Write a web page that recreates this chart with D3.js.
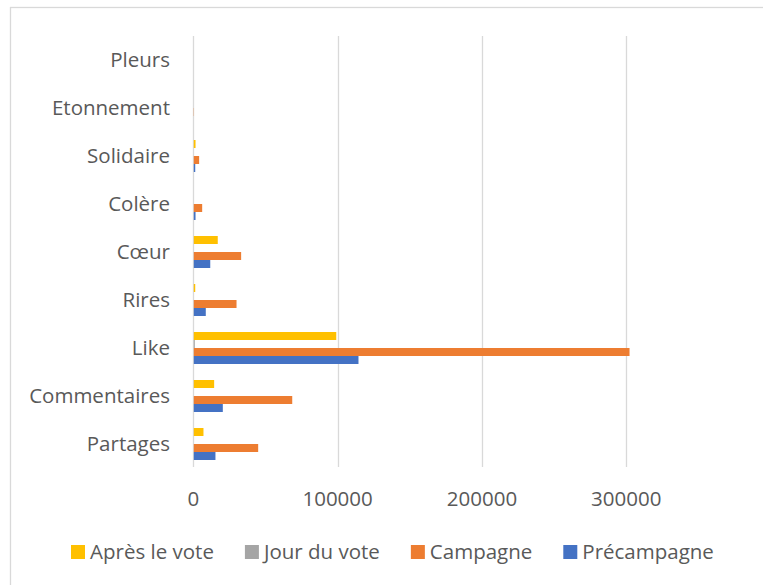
<!DOCTYPE html>
<html>
<head>
<meta charset="utf-8">
<script src="https://cdn.jsdelivr.net/npm/d3@7"></script>
<style>
  html, body { margin: 0; padding: 0; background: #fff; }
  svg { display: block; }
  text { font-family: "Open Sans", sans-serif; fill: #595959; }
</style>
</head>
<body>
<svg id="chart" width="763" height="585"></svg>
<script>
// ---- data ----
const categories = ["Partages", "Commentaires", "Like", "Rires", "Cœur", "Colère", "Solidaire", "Etonnement", "Pleurs"];
const seriesNames = ["Après le vote", "Jour du vote", "Campagne", "Précampagne"];
const apresVote   = [6700, 14100, 98700, 1000, 16600, 0, 1200, 0, 0];
const jourVote    = [0, 0, 700, 0, 0, 0, 0, 0, 0];
const campagne    = [44600, 68200, 301900, 29600, 32800, 5800, 3700, 150, 0];
const precampagne = [15000, 20100, 114100, 8300, 11400, 1200, 1000, 0, 0];
const tickValues  = [0, 100000, 200000, 300000];
const colors      = ["#FFC000", "#A5A5A5", "#ED7D31", "#4472C4"];

const seriesValues = [apresVote, jourVote, campagne, precampagne];

const svg = d3.select("#chart");

// outer chart border (extends beyond the visible crop)
svg.append("rect")
  .attr("x", 10.5).attr("y", 7.5)
  .attr("width", 900).attr("height", 800)
  .attr("fill", "none").attr("stroke", "#d9d9d9").attr("stroke-width", 1.3);

const x0 = 193.3, unit = 144.33;
const x = d3.scaleLinear().domain([0, 400000]).range([x0, x0 + 4 * unit]);
const y = d3.scaleBand().domain(categories.slice().reverse()).range([36, 468]).padding(0);
const yInner = d3.scaleBand().domain(seriesNames).range([8, 40]).padding(0);

// gridlines
svg.append("g").selectAll("line").data(tickValues).join("line")
  .attr("x1", d => Math.round(x(d)) + 0.5).attr("x2", d => Math.round(x(d)) + 0.5)
  .attr("y1", 36).attr("y2", 467)
  .attr("stroke", "#d9d9d9").attr("stroke-width", 1.3);

// bars
const groups = svg.append("g").selectAll("g").data(categories).join("g")
  .attr("transform", d => `translate(0,${y(d)})`);
groups.selectAll("rect")
  .data((c, i) => seriesNames.map((s, j) => ({ s, v: seriesValues[j][i], color: colors[j] })))
  .join("rect")
  .attr("x", x(0) + 0.5)
  .attr("y", d => yInner(d.s))
  .attr("width", d => Math.max(0, x(d.v) - x(0)))
  .attr("height", yInner.bandwidth())
  .attr("fill", d => d.color);

// category labels
svg.append("g").selectAll("text").data(categories).join("text")
  .attr("x", 170).attr("y", d => y(d) + y.bandwidth() / 2 - 1.5)
  .attr("text-anchor", "end").attr("dominant-baseline", "central")
  .style("font-size", "20.5px")
  .text(d => d);

// x tick labels
svg.append("g").selectAll("text").data(tickValues).join("text")
  .attr("x", d => x(d)).attr("y", 497.5)
  .attr("text-anchor", "middle").attr("dominant-baseline", "central")
  .style("font-size", "20.5px")
  .text(d => d3.format("d")(d));

// legend
const legend = svg.append("g");
let lx = 71;
seriesNames.forEach((name, i) => {
  const g = legend.append("g").attr("transform", `translate(${lx},0)`);
  g.append("rect").attr("x", 0).attr("y", 545).attr("width", 14).attr("height", 14).attr("fill", colors[i]);
  const t = g.append("text").attr("x", 19).attr("y", 550.5)
    .attr("dominant-baseline", "central").style("font-size", "20.5px").text(name);
  const w = t.node().getComputedTextLength();
  lx += 19 + w + 31;
});
</script>
</body>
</html>
